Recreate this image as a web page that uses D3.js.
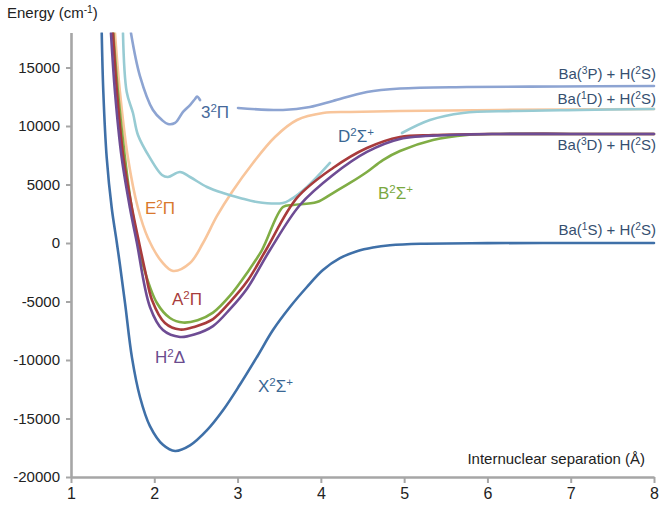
<!DOCTYPE html>
<html>
<head>
<meta charset="utf-8">
<script src="https://cdn.jsdelivr.net/npm/d3@7"></script>
<style>
html,body{margin:0;padding:0;background:#fff;}
svg{display:block;font-family:"Liberation Sans",Arial,sans-serif;}
</style>
</head>
<body>
<svg id="chart" width="659" height="511"></svg>
<script>
// ---------- data ----------
const xTicks = [1, 2, 3, 4, 5, 6, 7, 8];
const yTicks = [-20000, -15000, -10000, -5000, 0, 5000, 10000, 15000];

// X2Sigma+
const rX = [1.369,1.388,1.429,1.489,1.549,1.588,1.65,1.732,1.828,1.948,2.104,2.25,2.429,2.633,2.825,3.029,3.233,3.425,3.629,3.833,4.025,4.229,4.433,4.625,4.829,5.2,6,7,8];
const eX = [17950,12930,7270,2990,90,-1880,-5200,-9800,-13160,-15650,-17250,-17780,-17300,-16000,-14300,-12100,-9740,-7440,-5470,-3760,-2310,-1300,-700,-380,-190,-60,-10,0,0];

// 3^2Pi (two segments)
const r3a = [1.72,1.828,1.984,2.092,2.164,2.249,2.345,2.429,2.489,2.513,2.549];
const e3a = [17950,14270,11370,10510,10170,10260,11200,11790,12310,12520,12220];
const r3b = [3.005,3.545,3.869,4.145,4.553,4.95,5.754,6.87,8];
const e3b = [11540,11370,11620,12140,12900,13200,13330,13380,13420];

// E2Pi
const rE = [1.528,1.588,1.684,1.804,1.924,2.092,2.225,2.429,2.585,2.753,2.933,3.185,3.449,3.713,4.025,4.35,4.95,6.15,8];
const eE = [17950,12900,7270,2990,430,-1620,-2390,-1710,0,2310,4360,6840,9060,10510,11110,11200,11280,11370,11450];

// D2Sigma+ (two segments)
const rD1 = [1.624,1.669,1.744,1.804,1.948,2.092,2.164,2.309,2.429,2.633,2.825,3.029,3.233,3.545,3.629,3.833,4.109];
const eD1 = [17950,12900,11110,9230,7270,5810,5640,6070,5640,4790,4270,3850,3500,3420,3680,4790,6840];
const rD2 = [4.974,5.31,5.706,6.306,7.11,8];
const eD2 = [9400,10510,11110,11280,11370,11450];

// B2Sigma+
const rB = [1.508,1.564,1.648,1.729,1.804,1.864,2.032,2.188,2.345,2.52,2.705,2.909,3.113,3.293,3.545,3.665,3.953,4.145,4.349,4.553,4.745,4.95,5.346,5.754,6.15,7,8];
const eB = [17950,12900,7270,2990,85,-1880,-5130,-6410,-6800,-6600,-5950,-4500,-2560,-600,3080,3250,3500,4270,5130,6070,7090,7860,8800,9230,9320,9320,9320];

// A2Pi
const rA = [1.504,1.552,1.630,1.732,1.816,1.888,1.972,2.128,2.309,2.489,2.705,2.909,3.113,3.341,3.713,4.145,4.553,4.95,5.346,6,7,8];
const eA = [17950,12900,7270,2990,85,-2310,-4870,-6840,-7400,-7150,-6500,-5050,-3300,-600,3850,6410,8120,9060,9230,9320,9320,9320];

// H2Delta
const rH = [1.480,1.528,1.609,1.708,1.789,1.948,2.104,2.309,2.489,2.705,2.909,3.113,3.389,3.749,4.145,4.553,4.95,5.55,6.15,7,8];
const eH = [17950,12900,7270,2990,85,-5470,-7440,-8030,-7800,-7100,-5650,-3900,-600,3250,5810,7780,8890,9230,9320,9320,9320];

// ---------- layout ----------
const svg = d3.select("#chart");
const x = d3.scaleLinear().domain([1, 8]).range([71, 654]);
const y = d3.scaleLinear().domain([-20000, 18000]).range([477, 32.4]);

const axisColor = "#a6a6a6";

svg.append("defs").append("clipPath").attr("id","plot")
  .append("rect").attr("x", x(1)).attr("y", y(18000)).attr("width", x(8.2)-x(1)).attr("height", y(-20000)-y(18000));

const line = d3.line().x(d => x(d[0])).y(d => y(d[1])).curve(d3.curveCatmullRom.alpha(0.5));
const zip = (a, b) => a.map((v, i) => [v, b[i]]);

const curves = [
  {r: rX,  e: eX,  c: "#3f70a8"},
  {r: r3a, e: e3a, c: "#8da4d2"},
  {r: r3b, e: e3b, c: "#8da4d2"},
  {r: rE,  e: eE,  c: "#f8c59b"},
  {r: rD1, e: eD1, c: "#97cbd3"},
  {r: rD2, e: eD2, c: "#97cbd3"},
  {r: rB,  e: eB,  c: "#80ad45"},
  {r: rA,  e: eA,  c: "#a83b3c"},
  {r: rH,  e: eH,  c: "#6e4c94"}
];

const g = svg.append("g").attr("clip-path","url(#plot)");
g.selectAll("path").data(curves).join("path")
  .attr("d", d => line(zip(d.r, d.e)))
  .attr("fill","none")
  .attr("stroke", d => d.c)
  .attr("stroke-width", 2.6)
  .attr("stroke-linejoin","round")
  .attr("stroke-linecap","round");

// ---------- axes ----------
const fmt = d => String(d);
const yAxis = svg.append("g").attr("transform", `translate(${x(1)},0)`)
  .call(d3.axisLeft(y).tickValues(yTicks).tickSize(5).tickSizeOuter(0).tickPadding(6).tickFormat(fmt));
const xAxis = svg.append("g").attr("transform", `translate(0,${y(-20000)})`)
  .call(d3.axisBottom(x).tickValues(xTicks).tickSize(6).tickSizeOuter(0).tickPadding(5).tickFormat(fmt));
[yAxis, xAxis].forEach(a => {
  a.select(".domain").attr("stroke", axisColor).attr("stroke-width", 2.6);
  a.selectAll(".tick line").attr("stroke", axisColor).attr("stroke-width", 2);
  a.selectAll("text").attr("fill", "#222").attr("font-family", '"Liberation Sans",Arial,sans-serif');
});
yAxis.selectAll("text").attr("font-size", 15);
xAxis.selectAll("text").attr("font-size", 16);

// ---------- labels ----------
function label(parts, px, py, color, size, anchor) {
  const t = svg.append("text").attr("x", px).attr("y", py)
    .attr("fill", color).attr("font-size", size).attr("text-anchor", anchor || "start");
  parts.forEach(p => {
    const s = t.append("tspan").text(p[0]);
    if (p[1]) s.attr("baseline-shift", "super").attr("font-size", size * 0.68);
  });
  return t;
}

const stateLabels = [
  {parts: [["3"],["2",1],["Π"]],      r: 2.56,  e: 10680,  c: "#45689a"},
  {parts: [["E"],["2",1],["Π"]],      r: 1.888, e: 2480,   c: "#d9782d"},
  {parts: [["D"],["2",1],["Σ"],["+",1]], r: 4.205, e: 8630, c: "#3a6794"},
  {parts: [["B"],["2",1],["Σ"],["+",1]], r: 4.685, e: 3760, c: "#7aa83f"},
  {parts: [["A"],["2",1],["Π"]],      r: 2.212, e: -5300,  c: "#a83c3c"},
  {parts: [["H"],["2",1],["Δ"]],      r: 2.008, e: -10260, c: "#6b4c8e"},
  {parts: [["X"],["2",1],["Σ"],["+",1]], r: 3.245, e: -12740, c: "#3a6794"}
];
stateLabels.forEach(l => label(l.parts, x(l.r), y(l.e), l.c, 17));

const limitLabels = [
  {parts: [["Ba("],["3",1],["P) + H("],["2",1],["S)"]], e: 14020},
  {parts: [["Ba("],["1",1],["D) + H("],["2",1],["S)"]], e: 11880},
  {parts: [["Ba("],["3",1],["D) + H("],["2",1],["S)"]], e: 7950},
  {parts: [["Ba("],["1",1],["S) + H("],["2",1],["S)"]], e: 680}
];
limitLabels.forEach(l => label(l.parts, 656, y(l.e), "#354f70", 15, "end"));

// axis titles
label([["Energy (cm"],["-1",1],[")"]], 7, 18, "#222", 15);
label([["Internuclear separation (Å)"]], 645, 464, "#222", 15, "end");
</script>
</body>
</html>
